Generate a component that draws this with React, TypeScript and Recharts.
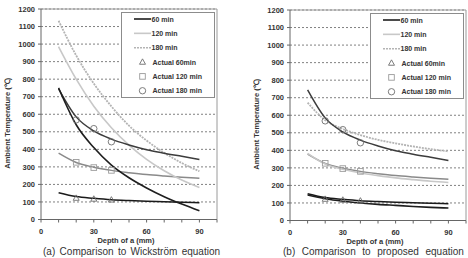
import { CartesianGrid, Legend, Line, LineChart, ReferenceLine, XAxis, YAxis } from "recharts";

const FONT = "'Liberation Sans', Arial, sans-serif";

// depth of a (mm) where the curves are sampled
const depth = [10, 20, 30, 40, 50, 60, 70, 80, 90];

// (a) Wickström equation
const wick60 = [750, 540, 410, 310, 238, 180, 130, 88, 50];
const wick120 = [985, 800, 646, 523, 424, 343, 278, 225, 183];
const wick180 = [1133, 935, 775, 645, 535, 450, 380, 322, 275];

// (b) proposed equation
const prop60 = [145, 124, 110, 100, 92, 86, 80, 75, 71];
const prop120 = [383, 322, 292, 271, 256, 243, 233, 224, 217];
const prop180 = [672, 572, 522, 487, 460, 440, 422, 407, 394];

// trend lines through the measured points (same in both panels)
const trend60 = [153, 131, 121, 113, 108, 104, 101, 98, 96];
const trend120 = [378, 325, 298, 280, 267, 256, 248, 241, 235];
const trend180 = [745, 585, 505, 458, 425, 398, 378, 360, 342];

// measured
const actualDepth = [20, 30, 40];
const actual60 = [122, 117, 112];
const actual120 = [326, 296, 280];
const actual180 = [568, 518, 443];

const xTicks = [0, 10, 20, 30, 40, 50, 60, 70, 80, 90, 100];
const xLabelTicks = [0, 30, 60, 90];
const yTicks = [0, 100, 200, 300, 400, 500, 600, 700, 800, 900, 1000, 1100, 1200];

const legendOrder = ["60 min", "120 min", "180 min", "Actual 60min", "Actual 120 min", "Actual 180 min"];

function buildRows(eq60: number[], eq120: number[], eq180: number[]) {
  return depth.map((d, i) => {
    const k = actualDepth.indexOf(d);
    return {
      depth: d,
      eq60: eq60[i],
      eq120: eq120[i],
      eq180: eq180[i],
      tr60: trend60[i],
      tr120: trend120[i],
      tr180: trend180[i],
      act60: k >= 0 ? actual60[k] : null,
      act120: k >= 0 ? actual120[k] : null,
      act180: k >= 0 ? actual180[k] : null,
    };
  });
}

function Marker({ shape, cx, cy, color }: { shape: string; cx: number; cy: number; color: string }) {
  if (shape === "triangle") {
    return (
      <polygon
        points={`${cx},${cy - 3.2} ${cx - 3},${cy + 2.2} ${cx + 3},${cy + 2.2}`}
        fill="none"
        stroke={color}
        strokeWidth={0.9}
      />
    );
  }
  if (shape === "square") {
    return <rect x={cx - 2.8} y={cy - 2.8} width={5.6} height={5.6} fill="none" stroke={color} strokeWidth={0.9} />;
  }
  return <circle cx={cx} cy={cy} r={3.2} fill="none" stroke={color} strokeWidth={0.9} />;
}

const markerDot = (shape: string, color: string) => (p: any) => {
  if (p.cy == null || p.value == null) return <g key={p.index} />;
  return <Marker key={p.index} shape={shape} cx={p.cx} cy={p.cy} color={color} />;
};

function XTick(props: any) {
  const { x, y, payload } = props;
  if (!xLabelTicks.includes(payload.value)) return <g />;
  return (
    <text x={x} y={y + 9.8} textAnchor="middle" fontSize={7.5} fontWeight={700} fill="#333">
      {payload.value}
    </text>
  );
}

function XTitle(props: any) {
  const vb = props.viewBox ?? { x: 41, y: 219.5, width: 176, height: 22 };
  return (
    <text x={vb.x + vb.width / 2 - 3} y={243.2} textAnchor="middle" fontSize={7.5} fontWeight={700} fill="#333">
      Depth of a (mm)
    </text>
  );
}

function YTitle(props: any) {
  const vb = props.viewBox ?? { x: 0, y: 9, width: 41, height: 210.5 };
  const cx = vb.x + 7.5;
  const cy = vb.y + vb.height / 2 + 9;
  return (
    <text
      x={cx}
      y={cy}
      transform={`rotate(-90 ${cx} ${cy})`}
      textAnchor="middle"
      dominantBaseline="central"
      fontSize={7.5}
      fontWeight={700}
      fill="#333"
    >
      Ambient Temperature (℃)
    </text>
  );
}

function LegendBox(props: any) {
  const items = (props.payload ?? [])
    .filter((p: any) => p.type !== "none")
    .sort((a: any, b: any) => legendOrder.indexOf(a.value) - legendOrder.indexOf(b.value));
  return (
    <svg width={94} height={86} style={{ display: "block" }}>
      <rect x={0.5} y={0.5} width={93} height={85} fill="#fff" stroke="#8c8c8c" />
      {items.map((p: any, i: number) => {
        const cy = 7 + i * 14.35;
        return (
          <g key={p.value}>
            {p.type === "line" ? (
              <line
                x1={13}
                x2={30}
                y1={cy}
                y2={cy}
                stroke={p.color}
                strokeWidth={1.6}
                strokeDasharray={p.payload?.strokeDasharray}
              />
            ) : (
              <Marker shape={p.type} cx={21.5} cy={cy} color={p.color} />
            )}
            <text
              x={p.type === "line" ? 30.5 : 31.5}
              y={cy}
              dominantBaseline="central"
              fontSize={7}
              fontWeight={700}
              fill="#333"
              fontFamily={FONT}
            >
              {p.value}
            </text>
          </g>
        );
      })}
    </svg>
  );
}

function Panel({ rows }: { rows: ReturnType<typeof buildRows> }) {
  return (
    <LineChart
      width={219}
      height={250}
      data={rows}
      margin={{ top: 9, right: 2, bottom: 8.5, left: 0 }}
      style={{ fontFamily: FONT }}
    >
      <CartesianGrid vertical={false} stroke="#808080" strokeDasharray="2 2" />
      <ReferenceLine y={1200} stroke="#9a9a9a" />
      <ReferenceLine x={100} stroke="#9a9a9a" />
      <XAxis
        type="number"
        dataKey="depth"
        domain={[0, 100]}
        ticks={xTicks}
        interval={0}
        tickSize={3}
        tickMargin={2}
        stroke="#666"
        height={22}
        tick={XTick}
        label={XTitle}
      />
      <YAxis
        type="number"
        domain={[0, 1200]}
        ticks={yTicks}
        interval={0}
        width={41}
        tickSize={3}
        tickMargin={3}
        stroke="#666"
        tick={{ fontSize: 7.5, fontWeight: 700, fill: "#333" }}
        label={YTitle}
      />
      <Line type="monotone" dataKey="tr120" stroke="#8a8a8a" strokeWidth={1.5} dot={false} activeDot={false} legendType="none" isAnimationActive={false} />
      <Line type="monotone" dataKey="eq120" name="120 min" stroke="#c8c8c8" strokeWidth={1.6} dot={false} activeDot={false} legendType="line" isAnimationActive={false} />
      <Line type="monotone" dataKey="eq180" name="180 min" stroke="#b4b4b4" strokeWidth={1.8} strokeDasharray="2 1" dot={false} activeDot={false} legendType="line" isAnimationActive={false} />
      <Line type="monotone" dataKey="tr180" stroke="#3c3c3c" strokeWidth={1.5} dot={false} activeDot={false} legendType="none" isAnimationActive={false} />
      <Line type="monotone" dataKey="tr60" stroke="#1a1a1a" strokeWidth={1.5} dot={false} activeDot={false} legendType="none" isAnimationActive={false} />
      <Line type="monotone" dataKey="eq60" name="60 min" stroke="#1e1e1e" strokeWidth={1.6} dot={false} activeDot={false} legendType="line" isAnimationActive={false} />
      <Line dataKey="act60" name="Actual 60min" stroke="#6e6e6e" strokeWidth={0} dot={markerDot("triangle", "#6e6e6e")} activeDot={false} legendType="triangle" isAnimationActive={false} />
      <Line dataKey="act120" name="Actual 120 min" stroke="#9a9a9a" strokeWidth={0} dot={markerDot("square", "#9a9a9a")} activeDot={false} legendType="square" isAnimationActive={false} />
      <Line dataKey="act180" name="Actual 180 min" stroke="#6e6e6e" strokeWidth={0} dot={markerDot("circle", "#6e6e6e")} activeDot={false} legendType="circle" isAnimationActive={false} />
      <Legend
        layout="vertical"
        align="center"
        verticalAlign="middle"
        content={LegendBox}
        wrapperStyle={{ left: 121, top: 12, width: 94, height: 86 }}
      />
    </LineChart>
  );
}

const captionStyle = {
  position: "absolute" as const,
  top: 246.5,
  fontSize: 10,
  lineHeight: "10px",
  color: "#333",
  whiteSpace: "nowrap" as const,
};

export default function App() {
  const left = buildRows(wick60, wick120, wick180);
  const right = buildRows(prop60, prop120, prop180);
  return (
    <div
      style={{
        position: "fixed",
        left: 0,
        top: 0,
        width: 468,
        height: 258,
        background: "#fff",
        overflow: "hidden",
        fontFamily: FONT,
      }}
    >
      <div style={{ position: "absolute", left: 0, top: 0 }}>
        <Panel rows={left} />
      </div>
      <div style={{ position: "absolute", left: 249, top: 1 }}>
        <Panel rows={right} />
      </div>
      <div style={{ ...captionStyle, left: 43, wordSpacing: 1.6 }}>(a) Comparison to Wickström equation</div>
      <div style={{ ...captionStyle, left: 283, wordSpacing: 3.8 }}>(b) Comparison to proposed equation</div>
    </div>
  );
}
